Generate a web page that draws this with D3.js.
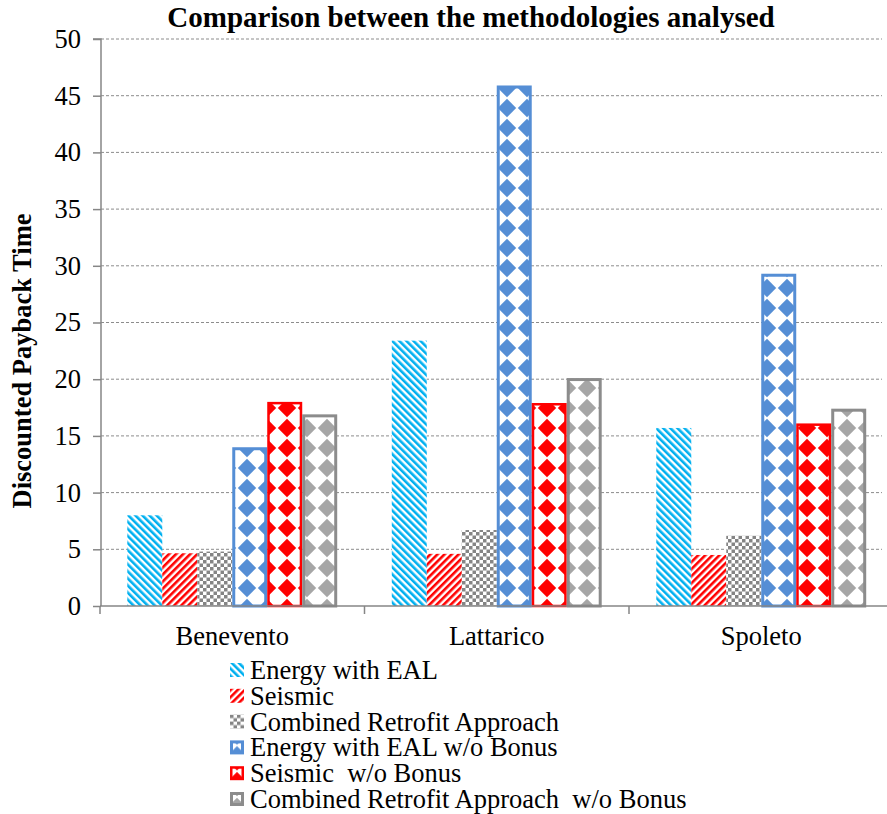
<!DOCTYPE html>
<html>
<head>
<meta charset="utf-8">
<script src="https://cdn.jsdelivr.net/npm/d3@7"></script>
<style>
  html, body { margin: 0; padding: 0; background: #fff; }
  svg { display: block; }
</style>
</head>
<body>
<svg id="chart" width="887" height="814"></svg>
<script>
// ---- data ----
const categories = ["Benevento", "Lattarico", "Spoleto"];
const seriesNames = [
  "Energy with EAL",
  "Seismic",
  "Combined Retrofit Approach",
  "Energy with EAL w/o Bonus",
  "Seismic  w/o Bonus",
  "Combined Retrofit Approach  w/o Bonus"
];
const energyEAL       = [8.0, 23.4, 15.7];
const seismic         = [4.65, 4.6, 4.5];
const combined        = [4.8, 6.7, 6.2];
const energyNoBonus   = [14.0, 45.9, 29.3];
const seismicNoBonus  = [18.0, 17.9, 16.1];
const combinedNoBonus = [16.9, 20.1, 17.4];
const yTicks = [0, 5, 10, 15, 20, 25, 30, 35, 40, 45, 50];
const titleText = "Comparison between the methodologies analysed";
const yTitle = "Discounted Payback Time";

const seriesValues = [energyEAL, seismic, combined, energyNoBonus, seismicNoBonus, combinedNoBonus];

const FONT = "'Liberation Serif', 'Times New Roman', Times, serif";

// ---- layout ----
const svg = d3.select("#chart");
const plotLeft = 101, plotRight = 893.5, plotTop = 39, plotBottom = 606;

const y = d3.scaleLinear().domain([0, 50]).range([plotBottom, plotTop]);
const x0 = d3.scaleBand().domain(categories).range([100, 893.5]).paddingInner(0).paddingOuter(0);
const x1 = d3.scaleBand().domain(d3.range(seriesNames.length)).range([0, x0.bandwidth()]).paddingInner(0).paddingOuter(0.78);

// ---- patterns ----
const defs = svg.append("defs");
function stripes(id, color, angle) {
  const p = defs.append("pattern").attr("id", id).attr("patternUnits", "userSpaceOnUse")
    .attr("width", 5).attr("height", 5).attr("patternTransform", `rotate(${angle})`);
  p.append("rect").attr("width", 5).attr("height", 5).attr("fill", "#fff");
  p.append("rect").attr("width", 2.6).attr("height", 5).attr("fill", color);
}
stripes("pEnergy", "#00B0F0", -45);
stripes("pSeismic", "#FF0000", 45);
(function () {
  const p = defs.append("pattern").attr("id", "pCombined").attr("patternUnits", "userSpaceOnUse")
    .attr("width", 7).attr("height", 7);
  p.append("rect").attr("width", 7).attr("height", 7).attr("fill", "#fff");
  p.append("rect").attr("width", 3.5).attr("height", 3.5).attr("fill", "#858585");
  p.append("rect").attr("x", 3.5).attr("y", 3.5).attr("width", 3.5).attr("height", 3.5).attr("fill", "#858585");
})();
function diamonds(id, color) {
  const p = defs.append("pattern").attr("id", id).attr("patternUnits", "userSpaceOnUse")
    .attr("width", 20).attr("height", 20).attr("x", -3).attr("y", -2);
  p.append("rect").attr("width", 20).attr("height", 20).attr("fill", "#fff");
  const h = 9.2;
  p.append("path").attr("d", `M10,${10 - h}L${10 + h},10L10,${10 + h}L${10 - h},10Z`).attr("fill", color);
}
diamonds("pEnergyNB", "#558ED5");
diamonds("pSeismicNB", "#FF0000");
diamonds("pCombinedNB", "#A6A6A6");

const fills = ["url(#pEnergy)", "url(#pSeismic)", "url(#pCombined)", "url(#pEnergyNB)", "url(#pSeismicNB)", "url(#pCombinedNB)"];
const strokes = ["none", "none", "none", "#558ED5", "#FF0000", "#8C8C8C"];
const strokeW = [0, 0, 0, 3, 2.5, 3];

// ---- gridlines ----
svg.append("g").selectAll("line").data(yTicks.filter(d => d > 0)).join("line")
  .attr("x1", plotLeft).attr("x2", 882)
  .attr("y1", d => y(d)).attr("y2", d => y(d))
  .attr("stroke", "#8c8c8c").attr("stroke-width", 1).attr("stroke-dasharray", "3,2");

// ---- bars (absolute coordinates so the fill patterns share one phase) ----
const barData = categories.flatMap((c, ci) => seriesValues.map((vals, si) => ({ c, si, v: vals[ci] })));
svg.append("g").selectAll("rect").data(barData).join("rect")
  .attr("x", d => x0(d.c) + x1(d.si) + strokeW[d.si] / 2)
  .attr("width", d => x1.bandwidth() - strokeW[d.si])
  .attr("y", d => y(d.v) + strokeW[d.si] / 2)
  .attr("height", d => plotBottom - y(d.v) - strokeW[d.si] / 2)
  .attr("fill", d => fills[d.si])
  .attr("stroke", d => strokes[d.si])
  .attr("stroke-width", d => strokeW[d.si]);

// ---- axes ----
const yAxis = d3.axisLeft(y).tickValues(yTicks).tickSize(8).tickPadding(12);
const gy = svg.append("g").attr("transform", `translate(${plotLeft},0)`).call(yAxis);
gy.attr("font-family", null).attr("font-size", null);
gy.select(".domain").attr("stroke", "#868686").attr("stroke-width", 1.5).attr("d", `M-8,${plotTop}H0V${plotBottom}`);
gy.selectAll(".tick line").attr("stroke", "#868686").attr("stroke-width", 1.5);
gy.selectAll(".tick text").style("font-family", FONT).style("font-size", "26.5px").attr("fill", "#000");

const xTickPos = [100, ...categories.map(c => x0(c) + x0.bandwidth())];
const gx = svg.append("g");
gx.append("line").attr("x1", 100).attr("x2", plotRight).attr("y1", plotBottom).attr("y2", plotBottom)
  .attr("stroke", "#868686").attr("stroke-width", 1.5);
gx.selectAll("line.t").data(xTickPos).join("line").attr("class", "t")
  .attr("x1", d => d).attr("x2", d => d).attr("y1", plotBottom).attr("y2", plotBottom + 8)
  .attr("stroke", "#868686").attr("stroke-width", 1.5);
gx.selectAll("text").data(categories).join("text")
  .attr("x", d => x0(d) + x0.bandwidth() / 2).attr("y", 645)
  .attr("text-anchor", "middle").style("font-family", FONT).style("font-size", "26.5px").attr("fill", "#000").text(d => d);

// ---- titles ----
svg.append("text").attr("x", 471).attr("y", 27).attr("text-anchor", "middle")
  .style("font-family", FONT).style("font-size", "29px").style("font-weight", "bold").attr("fill", "#000").text(titleText);
svg.append("text").attr("transform", `translate(31,361) rotate(-90)`).attr("text-anchor", "middle")
  .style("font-family", FONT).style("font-size", "26.5px").style("font-weight", "bold").attr("fill", "#000").text(yTitle);

// ---- legend ----
const leg = svg.append("g");
const legItems = leg.selectAll("g").data(seriesNames).join("g")
  .attr("transform", (d, i) => `translate(230,${670 + i * 25.8})`);
legItems.append("rect")
  .attr("x", (d, i) => strokeW[i] / 2).attr("y", (d, i) => -7 + strokeW[i] / 2)
  .attr("width", (d, i) => 14 - strokeW[i]).attr("height", (d, i) => 14 - strokeW[i])
  .attr("fill", (d, i) => fills[i]).attr("stroke", (d, i) => strokes[i])
  .attr("stroke-width", (d, i) => strokeW[i]);
legItems.append("text").attr("x", 20).attr("y", 9)
  .style("font-family", FONT).style("font-size", "26.5px").style("white-space", "pre")
  .attr("fill", "#000").text(d => d);
</script>
</body>
</html>
